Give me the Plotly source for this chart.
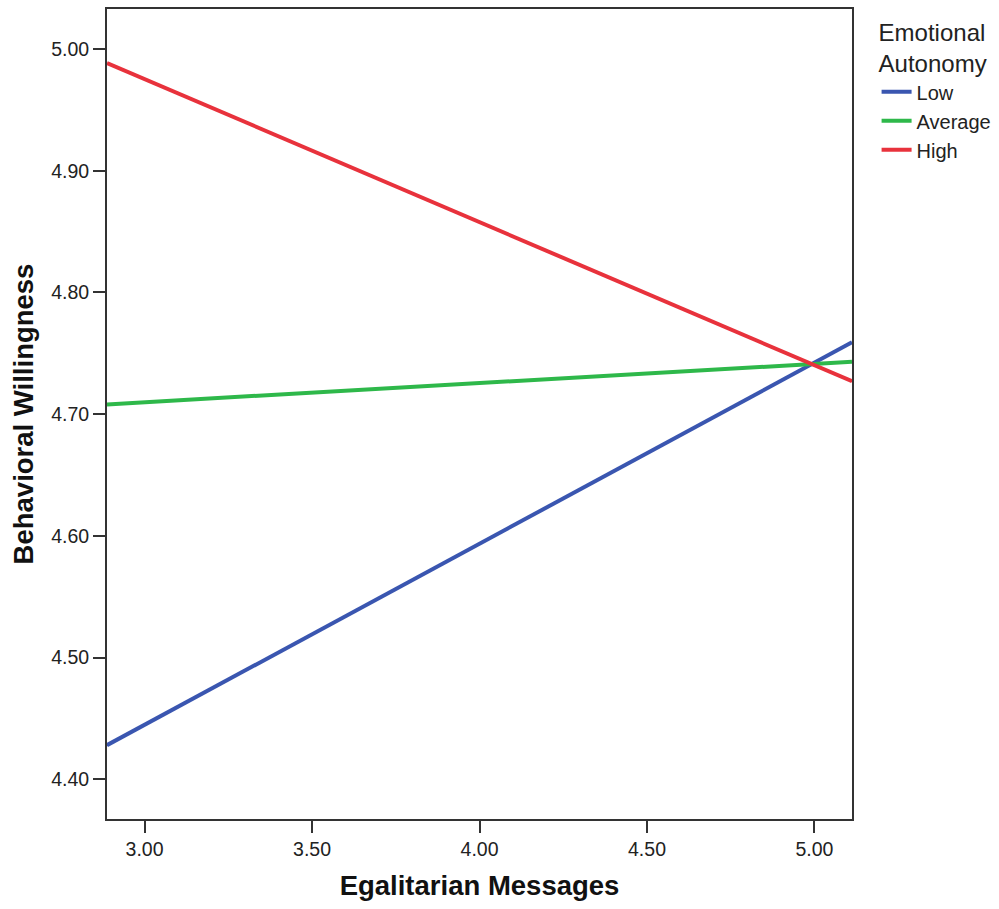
import plotly.graph_objects as go

x_values = [2.888, 5.112]
low = [4.428, 4.759]
average = [4.708, 4.743]
high = [4.9885, 4.727]
series_names = ["Low", "Average", "High"]
colors = ["#3a56b0", "#2eb84a", "#e8323c"]
x_ticks = [3.0, 3.5, 4.0, 4.5, 5.0]
y_ticks = [4.4, 4.5, 4.6, 4.7, 4.8, 4.9, 5.0]

font_family = "Liberation Sans, Arial, sans-serif"

fig = go.Figure()
for name, ys, c in zip(series_names, [low, average, high], colors):
    fig.add_trace(go.Scatter(x=x_values, y=ys, mode="lines", name=name,
                             line=dict(color=c, width=4)))

axis_common = dict(showgrid=False, zeroline=False, showline=True, linecolor="#333333",
                   linewidth=2, mirror=True, ticks="outside", ticklen=12, tickwidth=2,
                   tickcolor="#333333", tickfont=dict(size=19.5, color="#222222", family=font_family))

fig.update_xaxes(range=[2.888, 5.112], tickvals=x_ticks,
                 ticktext=[f"{v:.2f}" for v in x_ticks],
                 title=dict(text="<b>Egalitarian Messages</b>", font=dict(size=27.5, color="#111111", family=font_family), standoff=16),
                 **axis_common)
fig.update_yaxes(range=[4.3673, 5.0329], tickvals=y_ticks,
                 ticktext=[f"{v:.2f}" for v in y_ticks],
                 title=dict(text="<b>Behavioral Willingness</b>", font=dict(size=27.5, color="#111111", family=font_family), standoff=10),
                 **axis_common)

fig.update_layout(
    width=999, height=909,
    margin=dict(l=107, r=147, t=9, b=90, autoexpand=False),
    plot_bgcolor="white", paper_bgcolor="white",
    font=dict(family=font_family, color="#222222"),
    legend=dict(title=dict(text="Emotional<br>Autonomy", font=dict(size=24, color="#222222")),
                x=1.033, xanchor="left", y=0.999, yanchor="top",
                font=dict(size=20, color="#222222"), tracegroupgap=0,
                itemwidth=30, bgcolor="rgba(0,0,0,0)"),
)

fig.write_html("out.html")
